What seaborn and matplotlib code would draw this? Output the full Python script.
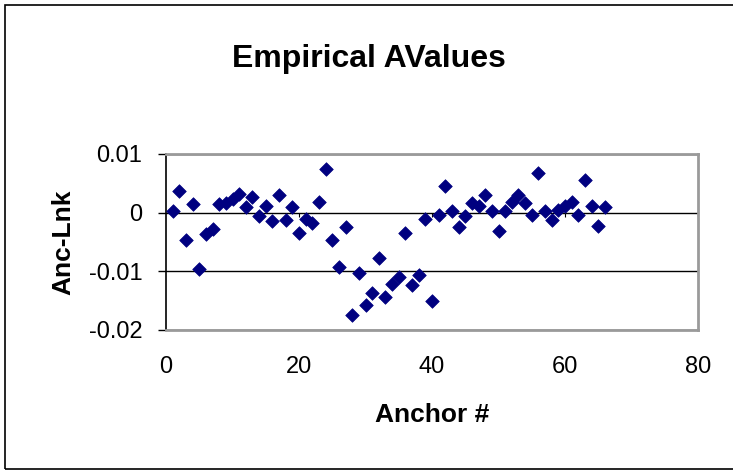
import pandas as pd
import matplotlib.pyplot as plt
import seaborn as sns

# anchor numbers and their empirical A values
anchor = list(range(1, 67))
anc_lnk = [
    0.0002, 0.0037, -0.0046, 0.0014, -0.0096, -0.0036, -0.0028, 0.0015, 0.0016, 0.0023,
    0.0032, 0.0009, 0.0027, -0.0005, 0.0012, -0.0015, 0.0030, -0.0012, 0.0009, -0.0035,
    -0.0010, -0.0017, 0.0019, 0.0074, -0.0046, -0.0092, -0.0024, -0.0174, -0.0102, -0.0157,
    -0.0137, -0.0078, -0.0143, -0.0121, -0.0110, -0.0035, -0.0124, -0.0106, -0.0011, -0.0150,
    -0.0004, 0.0045, 0.0003, -0.0024, -0.0005, 0.0016, 0.0011, 0.0030, 0.0003, -0.0031,
    0.0003, 0.0019, 0.0030, 0.0017, -0.0004, 0.0068, 0.0003, -0.0012, 0.0005, 0.0011,
    0.0018, -0.0004, 0.0055, 0.0011, -0.0022, 0.0009,
]
x_ticks = [0, 20, 40, 60, 80]
y_ticks = [-0.02, -0.01, 0, 0.01]
y_tick_labels = ["-0.02", "-0.01", "0", "0.01"]

df = pd.DataFrame({"Anchor #": anchor, "Anc-Lnk": anc_lnk})

sns.set_style("white")
plt.rcParams["font.family"] = ["Liberation Sans", "DejaVu Sans"]
plt.rcParams["text.color"] = "black"
plt.rcParams["axes.labelcolor"] = "black"
plt.rcParams["xtick.color"] = "black"
plt.rcParams["ytick.color"] = "black"

fig = plt.figure(figsize=(7.33, 4.71), dpi=100)
ax = fig.add_axes([166 / 733, 1 - 330 / 471, 532 / 733, 176 / 471])

sns.scatterplot(data=df, x="Anchor #", y="Anc-Lnk", marker="D", s=48,
                color="#000080", edgecolor="#000080", linewidth=0.5, ax=ax, zorder=3)

ax.set_xlim(0, 80)
ax.set_ylim(-0.02, 0.01)
ax.set_xticks(x_ticks)
ax.set_xticklabels([str(t) for t in x_ticks])
ax.set_yticks(y_ticks)
ax.set_yticklabels(y_tick_labels)
ax.tick_params(axis="x", length=0, pad=19, labelsize=17, labelcolor="black")
ax.tick_params(axis="y", left=True, length=6, width=1, color="black", pad=11,
               labelsize=17, labelcolor="black")

# horizontal gridlines like the Excel chart
ax.yaxis.grid(True, color="black", linewidth=1)
ax.xaxis.grid(False)
# small tick marks hanging from the zero line
ax.vlines(x_ticks[1:-1], -0.0008, 0, color="black", linewidth=0.8, zorder=2)

for side in ["top", "right", "bottom"]:
    ax.spines[side].set_visible(True)
    ax.spines[side].set_color("#9a9a9a")
    ax.spines[side].set_linewidth(2)
ax.spines["left"].set_color("black")
ax.spines["left"].set_linewidth(1.2)

ax.set_xlabel("Anchor #", fontsize=19, fontweight="bold", va="baseline", color="black")
ax.xaxis.set_label_coords(0.5, (330 - 422) / 176)
ax.set_ylabel("Anc-Lnk", fontsize=19, fontweight="bold", va="center", color="black")
ax.yaxis.set_label_coords((63 - 166) / 532, 0.5)

fig.text(369 / 733, 1 - 67 / 471, "Empirical AValues", fontsize=23,
         fontweight="bold", ha="center", va="baseline", color="black")

# chart area border (right side runs off the image, as in the original)
fig.patches.append(plt.Rectangle((4.5 / 733, 1 - 469 / 471), 1.2, 464 / 471,
                                 transform=fig.transFigure, fill=False,
                                 edgecolor="black", linewidth=1.2))

fig.savefig("out.png", dpi=100)
